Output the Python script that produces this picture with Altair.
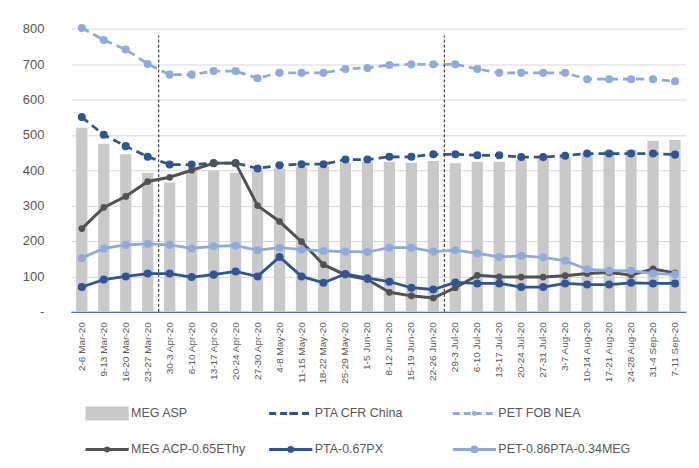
import altair as alt
import pandas as pd

categories = ["2-6 Mar-20", "9-13 Mar-20", "16-20 Mar-20", "23-27 Mar-20", "30-3 Apr-20",
              "6-10 Apr-20", "13-17 Apr-20", "20-24 Apr-20", "27-30 Apr-20", "4-8 May-20",
              "11-15 May-20", "18-22 May-20", "25-29 May-20", "1-5 Jun-20", "8-12 Jun-20",
              "15-19 Jun-20", "22-26 Jun-20", "29-3 Jul-20", "6-10 Jul-20", "13-17 Jul-20",
              "20-24 Jul-20", "27-31 Jul-20", "3-7 Aug-20", "10-14 Aug-20", "17-21 Aug-20",
              "24-28 Aug-20", "31-4 Sep-20", "7-11 Sep-20"]

meg_asp = [520, 475, 445, 393, 365, 400, 400, 393, 400, 405, 410, 410, 422, 424, 424,
           421, 426, 420, 424, 424, 430, 432, 437, 448, 455, 458, 483, 485]
pta_cfr = [550, 500, 468, 438, 416, 416, 420, 420, 405, 414, 417, 417, 430, 430, 438,
           438, 445, 445, 442, 442, 437, 437, 441, 447, 447, 447, 447, 444]
pet_fob = [802, 768, 741, 700, 670, 670, 680, 680, 660, 675, 675, 675, 686, 689, 697,
           699, 699, 699, 686, 675, 675, 675, 675, 657, 657, 657, 657, 651]
meg_acp = [235, 295, 326, 368, 380, 400, 420, 420, 300, 255, 198, 133, 104, 91, 55,
           45, 39, 68, 103, 99, 98, 98, 102, 108, 111, 104, 121, 110]
pta_px = [70, 91, 100, 108, 108, 98, 105, 114, 100, 155, 100, 82, 107, 95, 85,
          68, 63, 83, 80, 80, 70, 70, 80, 77, 77, 82, 80, 80]
pet_margin = [152, 179, 189, 192, 189, 179, 185, 187, 174, 181, 176, 172, 170, 169, 181,
              181, 170, 174, 165, 155, 158, 154, 144, 120, 116, 116, 108, 106]

divider_after = ["23-27 Mar-20", "22-26 Jun-20"]
divider_top = 780

legend_labels = ["MEG ASP", "PTA CFR China", "PET FOB NEA",
                 "MEG ACP-0.65EThy", "PTA-0.67PX", "PET-0.86PTA-0.34MEG"]

y_ticks = [0, 100, 200, 300, 400, 500, 600, 700, 800]

# ---------------------------------------------------------------
BAR = "#C9C9C9"
DARK = "#2F5597"
LIGHT = "#8FAADC"
GREY = "#525252"
TXT = "#595959"
FONT = "Liberation Sans"

W, H = 617, 284
n = len(categories)

df = pd.DataFrame({
    "cat": categories, "meg_asp": meg_asp, "pta_cfr": pta_cfr, "pet_fob": pet_fob,
    "meg_acp": meg_acp, "pta_px": pta_px, "pet_margin": pet_margin,
})

yscale = alt.Scale(domain=[0, 800], nice=False)
yaxis = alt.Axis(values=y_ticks, labelExpr="datum.value == 0 ? '-' : datum.label",
                 domain=False, ticks=False, labelPadding=27, labelFontSize=13,
                 labelColor=TXT, labelFont=FONT, gridColor="#D9D9D9", title=None)
X = alt.X("cat:N", sort=categories,
          scale=alt.Scale(paddingInner=0.49, paddingOuter=0.245),
          axis=alt.Axis(labelAngle=270, labelPadding=10, ticks=False, domainColor=DARK,
                        domainWidth=1, labelFontSize=10, labelColor=TXT, labelFont=FONT,
                        grid=False, title=None, labelOverlap=False))


def Y(field):
    return alt.Y(f"{field}:Q", scale=yscale, axis=yaxis)


base = alt.Chart(df).encode(x=X)

bars = base.mark_bar(color=BAR).encode(y=Y("meg_asp"))


def series(field, color, dash=None, size=65, width=2.75):
    kw = dict(color=color, strokeWidth=width)
    if dash:
        kw["strokeDash"] = dash
    line = base.mark_line(**kw).encode(y=Y(field))
    pts = base.mark_circle(color=color, size=size, opacity=1).encode(y=Y(field))
    return [line, pts]


div_df = pd.DataFrame({"cat": divider_after, "lo": [0] * len(divider_after),
                       "hi": [divider_top] * len(divider_after)})
dividers = alt.Chart(div_df).mark_rule(color="#222222", strokeWidth=1, strokeDash=[3, 2],
                                        xOffset=W / n / 2).encode(
    x=X, y=alt.Y("lo:Q", scale=yscale, axis=yaxis), y2="hi:Q")

layers = [bars]
layers += series("pta_cfr", DARK, dash=[8, 5])
layers += series("pet_fob", LIGHT, dash=[8, 5])
layers += [dividers]
layers += series("meg_acp", GREY, size=45, width=3)
layers += series("pta_px", DARK)
layers += series("pet_margin", LIGHT)

main = alt.layer(*layers).properties(width=W, height=H)

# ---------------- legend panel ----------------
leg = pd.DataFrame({"label": legend_labels})
leg["col"] = [i % 3 for i in range(len(legend_labels))]
leg["row"] = [i // 3 for i in range(len(legend_labels))]
leg["x0"] = leg["col"]
leg["x1"] = leg["col"] + 0.235
leg["xm"] = leg["col"] + 0.1175
leg["xt"] = leg["col"] + 0.248
leg["y"] = leg["row"] + 0.5

lx = alt.Scale(domain=[-0.08, 3.27], nice=False, zero=False)
ly = alt.Scale(domain=[0, 2], nice=False, reverse=True)
colscale = alt.Scale(domain=legend_labels, range=[BAR, DARK, LIGHT, GREY, DARK, LIGHT])
dashscale = alt.Scale(domain=legend_labels, range=[[1, 0], [7, 4], [7, 4], [1, 0], [1, 0], [1, 0]])
sizescale = alt.Scale(domain=legend_labels, range=[0, 60, 60, 40, 60, 60])

lbase = alt.Chart(leg)
leg_rect = lbase.transform_filter(alt.datum.label == legend_labels[0]).mark_rule(
    strokeWidth=14, strokeCap="butt", color=BAR).encode(
    x=alt.X("x0:Q", scale=lx, axis=None), x2="x1:Q", y=alt.Y("y:Q", scale=ly, axis=None))
leg_lines = lbase.transform_filter(alt.datum.label != legend_labels[0]).mark_rule(
    strokeWidth=3, strokeCap="butt").encode(
    x=alt.X("x0:Q", scale=lx, axis=None), x2="x1:Q", y=alt.Y("y:Q", scale=ly, axis=None),
    color=alt.Color("label:N", scale=colscale, legend=None),
    strokeDash=alt.StrokeDash("label:N", scale=dashscale, legend=None))
leg_pts = lbase.transform_filter(alt.datum.label != legend_labels[0]).mark_circle(opacity=1).encode(
    x=alt.X("xm:Q", scale=lx, axis=None), y=alt.Y("y:Q", scale=ly, axis=None),
    color=alt.Color("label:N", scale=colscale, legend=None),
    size=alt.Size("label:N", scale=sizescale, legend=None))
leg_text = lbase.mark_text(align="left", baseline="middle", fontSize=12.5, font=FONT,
                           color=TXT).encode(
    x=alt.X("xt:Q", scale=lx, axis=None), y=alt.Y("y:Q", scale=ly, axis=None), text="label:N")

legend = alt.layer(leg_rect, leg_lines, leg_pts, leg_text).properties(width=W, height=72)

chart = alt.vconcat(main, legend, spacing=12).properties(
    padding={"left": 14, "top": 13, "right": 5, "bottom": 5},
    background="white",
).configure_view(stroke=None)

chart.save("out.html", embed_options={"renderer": "svg", "actions": False})
